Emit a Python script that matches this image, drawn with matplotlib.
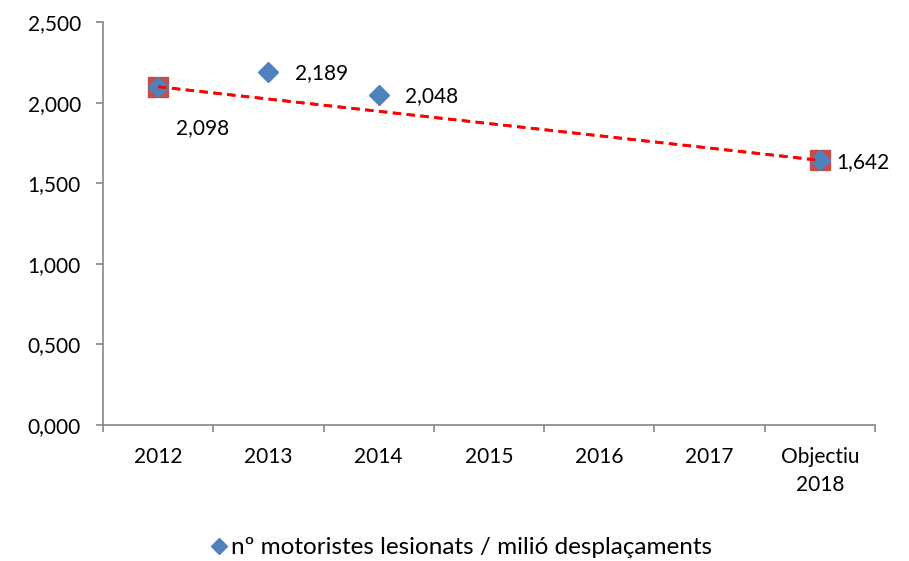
import numpy as np
import matplotlib; matplotlib.use("Agg"); import matplotlib.pyplot as plt
from matplotlib.ticker import FuncFormatter, FixedLocator

categories = ["2012", "2013", "2014", "2015", "2016", "2017", "Objectiu\n2018"]
series_idx = [0, 1, 2, 6]
series_vals = [2.098, 2.189, 2.048, 1.642]
trend_idx = [0, 6]
trend_vals = [2.098, 1.642]
legend_label = "nº motoristes lesionats / milió desplaçaments"

plt.rcParams["font.family"] = ["Lato", "DejaVu Sans"]
plt.rcParams["font.size"] = 15

def fmt(v):
    return f"{v:,.3f}".replace(".", ",")

fig = plt.figure(figsize=(9.09, 5.61), dpi=100)
ax = fig.add_axes([0.1133, 0.2424, 0.8493, 0.7184])
grey = "#868686"

ax.plot(trend_idx, trend_vals, "--", color="#ff0000", lw=2, dashes=(3, 2),
        marker="s", ms=14, mfc="#c0504d", mec="#c0504d", zorder=2)
ax.plot(series_idx, series_vals, "D", color="#4f81bd", ms=10, ls="none", zorder=3,
        label=legend_label)
ax.plot(trend_idx, trend_vals, "--", color="#ff0000", lw=2, dashes=(3, 2), zorder=4)

offsets = {0: (13, -30), 1: (19, -1), 2: (19, -1), 6: (12, -1)}
for i, v in zip(series_idx, series_vals):
    dx, dy = offsets[i]
    ax.annotate(fmt(v), (i, v), xytext=(dx, dy), textcoords="offset points",
                ha="left", va="center", fontsize=15)

ax.set_xlim(-0.5, 6.5)
ax.set_ylim(0, 2.5)
ax.set_yticks(np.arange(0, 2.51, 0.5))
ax.yaxis.set_major_formatter(FuncFormatter(lambda v, p: fmt(v)))
ax.set_xticks(range(len(categories)))
ax.set_xticklabels(categories, linespacing=1.5)
ax.xaxis.set_minor_locator(FixedLocator(np.arange(-0.5, 6.6, 1)))
ax.tick_params(axis="x", which="major", length=0, pad=16)
ax.tick_params(axis="x", which="minor", length=5, color=grey, width=1.2)
ax.tick_params(axis="y", length=5, color=grey, width=1.2, pad=11)
for s in ["top", "right"]:
    ax.spines[s].set_visible(False)
for s in ["left", "bottom"]:
    ax.spines[s].set_color(grey)
    ax.spines[s].set_linewidth(1.2)

fig.legend(loc="center", bbox_to_anchor=(0.505, 0.024), frameon=False, handletextpad=0.0,
           handlelength=1.0, fontsize=17.5, markerscale=0.8)
fig.savefig("out.png", dpi=100)
